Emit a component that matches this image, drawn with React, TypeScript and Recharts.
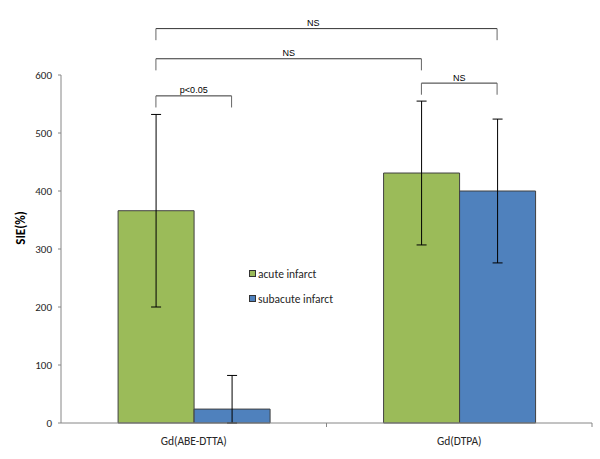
import React from 'react';
import { BarChart, Bar, XAxis, YAxis, ErrorBar, ReferenceLine, ReferenceDot, Legend } from 'recharts';

const categories = ['Gd(ABE-DTTA)', 'Gd(DTPA)'];
const seriesNames = ['acute infarct', 'subacute infarct'];
const acuteValues = [366, 431];
const acuteErrors: [number, number][] = [[166, 166], [124, 124]];
const subacuteValues = [24, 400];
const subacuteErrors: [number, number][] = [[24, 58], [124, 124]];
const yTicks = [0, 100, 200, 300, 400, 500, 600];

// significance brackets: between bars given as [category, series]
const brackets = [
  { from: [0, 0], to: [1, 1], y: 680, label: 'NS', labelShift: -0.05 },
  { from: [0, 0], to: [1, 0], y: 628, label: 'NS', labelShift: 0 },
  { from: [1, 0], to: [1, 1], y: 586, label: 'NS', labelShift: 0 },
  { from: [0, 0], to: [0, 1], y: 564, label: 'p<0.05', labelShift: 0 },
];

const data = categories.map((name, i) => ({
  name,
  acute: acuteValues[i],
  acuteErr: acuteErrors[i],
  subacute: subacuteValues[i],
  subacuteErr: subacuteErrors[i],
}));

const GREEN = '#9BBB59';
const BLUE = '#4F81BD';
const AXIS = '#868686';
const BAR_GAP = 0.215;
const BAR_OFFSET = (1 - 2 * BAR_GAP) / 4;
const TICK_LEN = 20;
const LABEL_LIFT = 10;
const TICK_FONT = 'Carlito, Lato, sans-serif';
const NOTE_FONT = '"Liberation Sans", Arial, sans-serif';
const N = categories.length;

// position of a bar centre as a fraction of the category axis
const barX = (cat: number, series: number) => (cat + 0.5 + (series === 0 ? -BAR_OFFSET : BAR_OFFSET)) / N;

const CategoryTick = (props: any) => {
  const { x, y, payload } = props;
  const off = payload && typeof payload.offset === 'number' && payload.offset > 0 ? payload.offset : 132.75;
  const axisY = y - 14;
  return (
    <g>
      <line x1={x + off} x2={x + off} y1={axisY} y2={axisY + 4} stroke={AXIS} />
      <text x={x} y={y} dy="0.71em" textAnchor="middle" fontSize={11.5} fontFamily={TICK_FONT} fill="#262626">
        {payload.value}
      </text>
    </g>
  );
};

const renderLegend = (props: any) => {
  const payload = props.payload || [];
  return (
    <div style={{ fontFamily: TICK_FONT, fontSize: 11.5, color: '#262626' }}>
      {payload.map((p: any, i: number) => (
        <div key={i} style={{ display: 'flex', alignItems: 'center', height: 25, whiteSpace: 'nowrap' }}>
          <span
            style={{
              display: 'inline-block',
              width: 5,
              height: 5,
              background: p.color,
              border: '1px solid #333',
              marginRight: 2,
            }}
          />
          <span>{p.value}</span>
        </div>
      ))}
    </div>
  );
};

const YLabel = (props: any) => {
  const vb = props.viewBox || { x: 0, y: 75, width: 61, height: 348 };
  const cx = vb.x + 20;
  const cy = vb.y + vb.height / 2 - 21;
  return (
    <text
      x={cx}
      y={cy}
      transform={`rotate(-90 ${cx} ${cy})`}
      textAnchor="middle"
      dominantBaseline="central"
      fontFamily={TICK_FONT}
      fontWeight="bold"
      fontSize={13}
      fill="#000"
    >
      SIE(%)
    </text>
  );
};

export default function App() {
  return (
    <div style={{ position: 'absolute', left: 0, top: 0, width: 600, height: 459, background: '#fff' }}>
      <BarChart
        width={600}
        height={459}
        data={data}
        margin={{ top: 75, right: 8, bottom: 6, left: 0 }}
        barCategoryGap={`${BAR_GAP * 100}%`}
        barGap={0}
      >
        <XAxis
          dataKey="name"
          axisLine={{ stroke: AXIS }}
          tickLine={false}
          tickSize={4}
          tickMargin={10}
          height={30}
          tick={<CategoryTick />}
          interval={0}
        />
        <XAxis xAxisId="n" type="number" domain={[0, 1]} allowDataOverflow hide />
        <YAxis
          domain={[0, 600]}
          ticks={yTicks}
          width={61}
          axisLine={{ stroke: AXIS }}
          tickLine={{ stroke: AXIS }}
          tickSize={3}
          tickMargin={6}
          tick={{ fill: '#262626', fontSize: 11, fontFamily: TICK_FONT }}
          label={<YLabel />}
        />
        <Legend
          layout="vertical"
          align="center"
          verticalAlign="middle"
          content={renderLegend}
          wrapperStyle={{ position: 'absolute', left: 249, top: 261, width: 'auto' }}
        />
        <Bar dataKey="acute" name={seriesNames[0]} fill={GREEN} stroke="#404040" strokeWidth={1} isAnimationActive={false}>
          <ErrorBar dataKey="acuteErr" width={5} stroke="#000" strokeWidth={1} direction="y" isAnimationActive={false} />
        </Bar>
        <Bar dataKey="subacute" name={seriesNames[1]} fill={BLUE} stroke="#404040" strokeWidth={1} isAnimationActive={false}>
          <ErrorBar dataKey="subacuteErr" width={5} stroke="#000" strokeWidth={1} direction="y" isAnimationActive={false} />
        </Bar>
        {brackets.map((b, i) => {
          const x1 = barX(b.from[0], b.from[1]);
          const x2 = barX(b.to[0], b.to[1]);
          return (
            <React.Fragment key={i}>
              <ReferenceLine xAxisId="n" segment={[{ x: x1, y: b.y }, { x: x2, y: b.y }]} stroke="#333" strokeWidth={1} ifOverflow="visible" />
              <ReferenceLine xAxisId="n" segment={[{ x: x1, y: b.y }, { x: x1, y: b.y - TICK_LEN }]} stroke="#666" strokeWidth={1} ifOverflow="visible" />
              <ReferenceLine xAxisId="n" segment={[{ x: x2, y: b.y }, { x: x2, y: b.y - TICK_LEN }]} stroke="#666" strokeWidth={1} ifOverflow="visible" />
              <ReferenceDot
                xAxisId="n"
                x={(x1 + x2) / 2 + b.labelShift / N}
                y={b.y + LABEL_LIFT}
                r={0}
                fill="none"
                stroke="none"
                ifOverflow="visible"
                label={{ value: b.label, position: 'center', fontSize: 9, fontFamily: NOTE_FONT, fill: '#000' }}
              />
            </React.Fragment>
          );
        })}
      </BarChart>
    </div>
  );
}
